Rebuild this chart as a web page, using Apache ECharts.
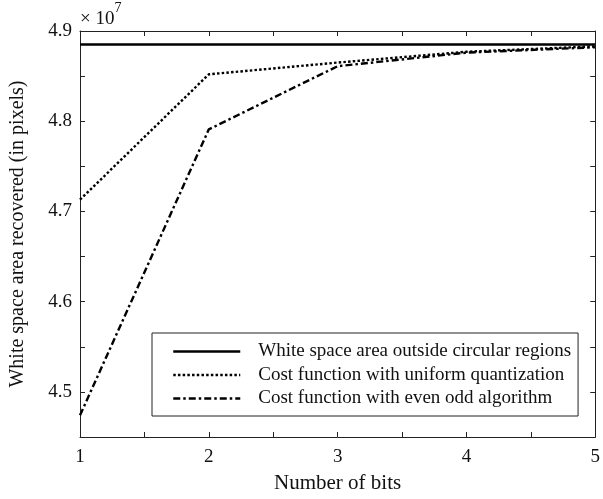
<!DOCTYPE html>
<html>
<head>
<meta charset="utf-8">
<script src="https://cdn.jsdelivr.net/npm/echarts@6/dist/echarts.min.js"></script>
<style>html,body{margin:0;padding:0;background:#fff}#c{width:603px;height:499px}</style>
</head>
<body>
<div id="c"></div>
<script>
const bits = [1, 2, 3, 4, 5];
const outsideArea = [4.885, 4.885, 4.885, 4.885, 4.885];
const uniformQuant = [4.713, 4.852, 4.865, 4.877, 4.883];
const evenOdd = [4.474, 4.791, 4.861, 4.876, 4.882];
const seriesNames = [
  'White space area outside circular regions',
  'Cost function with uniform quantization',
  'Cost function with even odd algorithm'
];
const FONT = 'Liberation Serif';
const pair = arr => bits.map((b, i) => [b, arr[i]]);
const chart = echarts.init(document.getElementById('c'), null, {renderer: 'canvas'});
const yFmt = v => {
  const t = Math.round(v * 100) / 100;
  return Math.abs(t * 10 - Math.round(t * 10)) < 1e-6 ? t.toFixed(1) : '';
};
const xFmt = v => Math.abs(v - Math.round(v)) < 1e-6 ? String(Math.round(v)) : '';
const axisCommon = {
  axisLine: {show: true, lineStyle: {color: '#222', width: 1}},
  axisTick: {show: true, inside: true, length: 5, lineStyle: {color: '#222'}},
  splitLine: {show: false}
};
chart.setOption({
  animation: false,
  backgroundColor: '#fff',
  textStyle: {fontFamily: FONT},
  grid: {left: 79, right: 4, top: 31, bottom: 58},
  xAxis: [
    Object.assign({
      type: 'value', min: 1, max: 5, interval: 0.5, position: 'bottom',
      name: 'Number of bits', nameLocation: 'middle', nameGap: 36,
      nameTextStyle: {fontFamily: FONT, fontSize: 21, color: '#111'},
      axisLabel: {formatter: xFmt, fontFamily: FONT, fontSize: 19, color: '#111', margin: 11}
    }, axisCommon),
    Object.assign({
      type: 'value', min: 1, max: 5, interval: 0.5, position: 'top',
      axisLabel: {show: false}
    }, axisCommon)
  ],
  yAxis: [
    Object.assign({
      type: 'value', min: 4.45, max: 4.9, interval: 0.05, position: 'left',
      name: 'White space area recovered (in pixels)', nameLocation: 'middle', nameGap: 52,
      nameTextStyle: {fontFamily: FONT, fontSize: 20, color: '#111'},
      axisLabel: {formatter: yFmt, fontFamily: FONT, fontSize: 19, color: '#111', margin: 8}
    }, axisCommon),
    Object.assign({
      type: 'value', min: 4.45, max: 4.9, interval: 0.05, position: 'right',
      axisLabel: {show: false}
    }, axisCommon)
  ],
  legend: {
    left: 152, top: 333,
    orient: 'vertical',
    backgroundColor: '#fff',
    borderColor: '#222', borderWidth: 1,
    padding: [9, 7, 8, 20],
    itemWidth: 67, itemHeight: 12, itemGap: 4.5,
    itemStyle: {opacity: 0},
    lineStyle: {width: 2.5},
    textStyle: {fontFamily: FONT, fontSize: 19, color: '#111', padding: [0, 0, 0, 13]},
    data: seriesNames
  },
  graphic: [{
    type: 'text', left: 80, top: 1,
    style: {
      text: '{a|× 10}{b|7}',
      rich: {
        a: {fontFamily: FONT, fontSize: 19, fill: '#111', verticalAlign: 'bottom', padding: [9, 0, 0, 0]},
        b: {fontFamily: FONT, fontSize: 14, fill: '#111', verticalAlign: 'top'}
      }
    }
  }],
  series: [
    {name: seriesNames[0], type: 'line', data: pair(outsideArea), symbol: 'none',
     lineStyle: {color: '#000', width: 2.5, type: 'solid'}, color: '#000'},
    {name: seriesNames[1], type: 'line', data: pair(uniformQuant), symbol: 'none',
     lineStyle: {color: '#000', width: 2.4, type: [2.5, 2.2]}, color: '#000'},
    {name: seriesNames[2], type: 'line', data: pair(evenOdd), symbol: 'none',
     lineStyle: {color: '#000', width: 2.4, type: [7, 3, 2.5, 3]}, color: '#000'}
  ]
});
</script>
</body>
</html>
